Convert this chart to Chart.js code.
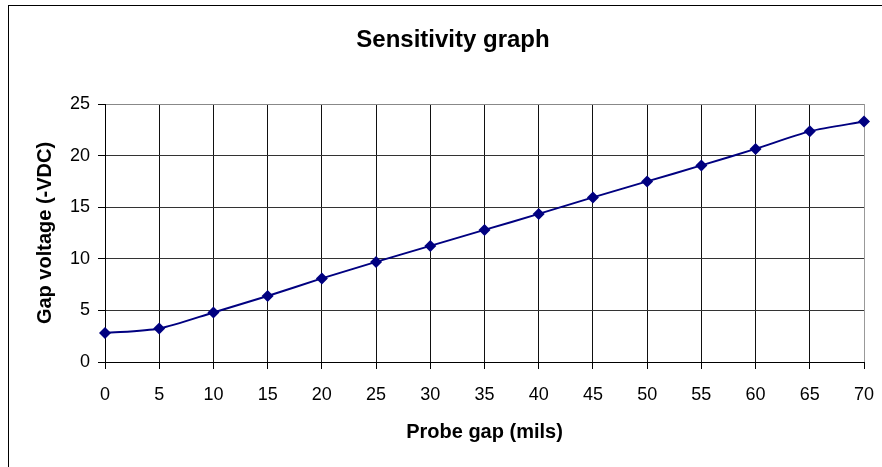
<!DOCTYPE html>
<html>
<head>
<meta charset="utf-8">
<script src="https://cdn.jsdelivr.net/npm/chart.js@4/dist/chart.umd.min.js"></script>
<style>
  body { margin: 0; background: #fff; }
  #wrap { width: 882px; height: 467px; position: relative; }
</style>
</head>
<body>
<div id="wrap"><canvas id="sens"></canvas></div>
<script>
// probe gap (mils) vs gap voltage (-VDC)
const gapMils = [0, 5, 10, 15, 20, 25, 30, 35, 40, 45, 50, 55, 60, 65, 70]
const gapVolts = [2.8, 3.25, 4.8, 6.4, 8.1, 9.7, 11.25, 12.8, 14.35, 15.95, 17.5, 19.05, 20.65, 22.35, 23.3]
const titleText = 'Sensitivity graph'
const xTitle = 'Probe gap (mils)'
const yTitle = 'Gap voltage (-VDC)'

const font = '"Liberation Sans", Arial, sans-serif'
const navy = '#000080'

// outer frame (only top + left show in the crop) + chart title
const framePlugin = {
  id: 'frame',
  beforeDraw(chart) {
    const ctx = chart.ctx
    ctx.save()
    ctx.fillStyle = '#fff'
    ctx.fillRect(0, 0, chart.width, chart.height)
    ctx.strokeStyle = '#000'
    ctx.lineWidth = 1
    ctx.strokeRect(8.5, 5.5, 900, 500)
    ctx.fillStyle = '#000'
    ctx.font = 'bold 24px ' + font
    ctx.textAlign = 'center'
    ctx.textBaseline = 'middle'
    ctx.fillText(titleText, 453, 40)
    ctx.restore()
  }
}

const ctx = document.getElementById('sens').getContext('2d')
let sensChart = new Chart(ctx, {
  type: 'line',
  data: {
    datasets: [{
      data: gapMils.map((x, i) => ({ x: x, y: gapVolts[i] })),
      borderColor: navy,
      backgroundColor: navy,
      borderWidth: 2,
      pointStyle: 'rectRot',
      pointRadius: 6,
      pointBorderWidth: 0,
      tension: 0.25,
      clip: false
    }]
  },
  options: {
    responsive: true,
    maintainAspectRatio: false,
    animation: false,
    layout: { padding: { left: 0, right: 18, top: 104, bottom: 0 } },
    plugins: {
      legend: { display: false },
      tooltip: { enabled: false }
    },
    scales: {
      x: {
        type: 'linear',
        min: 0,
        max: 70,
        afterFit: s => { s.height = 105; s.paddingRight = 0; s.paddingLeft = 0 },
        ticks: { stepSize: 5, color: '#000', padding: 15, font: { family: font, size: 18 } },
        grid: {
          color: c => c.tick.value === 70 ? '#999' : '#111',
          tickColor: '#000',
          tickLength: 7
        },
        border: { color: '#000' },
        title: {
          display: true, text: xTitle, color: '#000',
          font: { family: font, size: 20, weight: 'bold' },
          padding: { top: 0, bottom: 23 }
        }
      },
      y: {
        min: 0,
        max: 25,
        afterFit: s => { s.width = 105 },
        ticks: { stepSize: 5, color: '#000', padding: 8, font: { family: font, size: 18 } },
        grid: {
          color: c => c.tick.value === 25 ? '#888' : '#333',
          tickColor: '#000',
          tickLength: 7
        },
        border: { color: '#000' },
        title: {
          display: true, text: yTitle, color: '#000',
          font: { family: font, size: 20, weight: 'bold' },
          padding: { top: 33, bottom: 0 }
        }
      }
    }
  },
  plugins: [framePlugin]
})
</script>
</body>
</html>
